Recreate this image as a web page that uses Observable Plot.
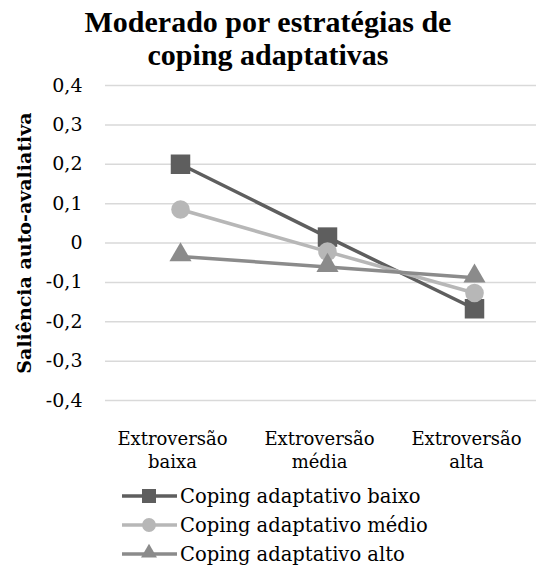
<!DOCTYPE html>
<html>
<head>
<meta charset="utf-8">
<script src="https://cdn.jsdelivr.net/npm/d3@7"></script>
<script src="https://cdn.jsdelivr.net/npm/@observablehq/plot@0.6"></script>
<style>
  html, body { margin: 0; padding: 0; background: #fff; }
  #wrap { position: relative; width: 536px; height: 572px; overflow: hidden; background: #fff; }
  #title { position: absolute; left: 0; top: 5px; width: 536px; text-align: center;
           font-family: "Liberation Serif", serif; font-weight: bold; font-size: 30px; line-height: 33px; color: #000; }
  #chart { position: absolute; left: 0; top: 72px; }
  #legend { position: absolute; left: 0; top: 472px; }
</style>
</head>
<body>
<div id="wrap">
  <div id="title">Moderado por estratégias de<br>coping adaptativas</div>
  <div id="chart"></div>
  <div id="legend"></div>
</div>
<script>
const categories = ["Extroversão baixa", "Extroversão média", "Extroversão alta"];
const categoryLabels = ["Extroversão\nbaixa", "Extroversão\nmédia", "Extroversão\nalta"];
const seriesNames = ["Coping adaptativo baixo", "Coping adaptativo médio", "Coping adaptativo alto"];
const copingBaixo = [0.2, 0.015, -0.167];
const copingMedio = [0.085, -0.022, -0.127];
const copingAlto = [-0.034, -0.061, -0.088];
const yTicks = [-0.4, -0.3, -0.2, -0.1, 0, 0.1, 0.2, 0.3, 0.4];
const yLabel = "Saliência auto-avaliativa";

const seriesValues = [copingBaixo, copingMedio, copingAlto];
const colors = ["#5e5e5e", "#b7b7b7", "#8b8b8b"];
const symbols = ["square", "circle", "triangle"];
const radii = [11, 9.3, 8.2];

const rows = [];
seriesNames.forEach((s, i) => {
  categories.forEach((c, j) => rows.push({series: s, category: c, value: seriesValues[i][j]}));
});

const fmt = d => d === 0 ? "0" : d.toFixed(1).replace(".", ",");
const bodyFont = "DejaVu Serif";

const marks = [
  Plot.ruleY(yTicks, {stroke: "#d9d9d9", strokeWidth: 1.5}),
  Plot.axisY({ticks: yTicks, tickSize: 0, tickPadding: 23, tickFormat: fmt, label: null,
              fontSize: 19, fontFamily: bodyFont, fill: "#000"}),
  Plot.text(categories, {x: d => d, text: (d, i) => categoryLabels[i], frameAnchor: "bottom",
              lineAnchor: "top", dy: 27, dx: -8, lineHeight: 1.33, fontSize: 18,
              fontFamily: bodyFont, fill: "#000"}),
  Plot.text([yLabel], {frameAnchor: "left", dx: -81, rotate: -90, lineAnchor: "middle",
              textAnchor: "middle", text: d => d, fontSize: 19, fontWeight: "bold",
              fontFamily: bodyFont, fill: "#000"})
];
seriesNames.forEach((s, i) => {
  const data = rows.filter(r => r.series === s);
  marks.push(Plot.line(data, {x: "category", y: "value", stroke: colors[i], strokeWidth: 3.5}));
  marks.push(Plot.dot(data, {x: "category", y: "value", symbol: symbols[i], r: radii[i],
              fill: colors[i], stroke: "none", dy: symbols[i] === "triangle" ? -1.5 : 0}));
});

const chart = Plot.plot({
  width: 536,
  height: 400,
  marginTop: 13,
  marginBottom: 72,
  marginLeft: 105,
  marginRight: 0,
  style: {fontFamily: bodyFont, fontSize: "19px", background: "transparent", overflow: "visible"},
  x: {type: "point", domain: categories, range: [105, 548], padding: 0.5, axis: null},
  y: {domain: [-0.4, 0.4], axis: null},
  marks
});
document.getElementById("chart").appendChild(chart);

// Legend
const lg = d3.select("#legend").append("svg").attr("width", 536).attr("height", 100);
const rowY = [24, 53, 82];
seriesNames.forEach((s, i) => {
  const g = lg.append("g").attr("transform", `translate(0,${rowY[i]})`);
  g.append("line").attr("x1", 122).attr("x2", 177).attr("y1", 0).attr("y2", 0)
    .attr("stroke", colors[i]).attr("stroke-width", 3.5);
  const sym = {square: d3.symbolSquare, circle: d3.symbolCircle, triangle: d3.symbolTriangle}[symbols[i]];
  const size = [196, 150, 110][i];
  g.append("path").attr("d", d3.symbol(sym, size)()).attr("transform", `translate(149,${i === 2 ? -1 : 0})`)
    .attr("fill", colors[i]);
  g.append("text").attr("x", 180).attr("y", 0).attr("dy", "0.36em")
    .attr("font-family", bodyFont).attr("font-size", 19.5).attr("fill", "#000").text(s);
});
</script>
</body>
</html>
